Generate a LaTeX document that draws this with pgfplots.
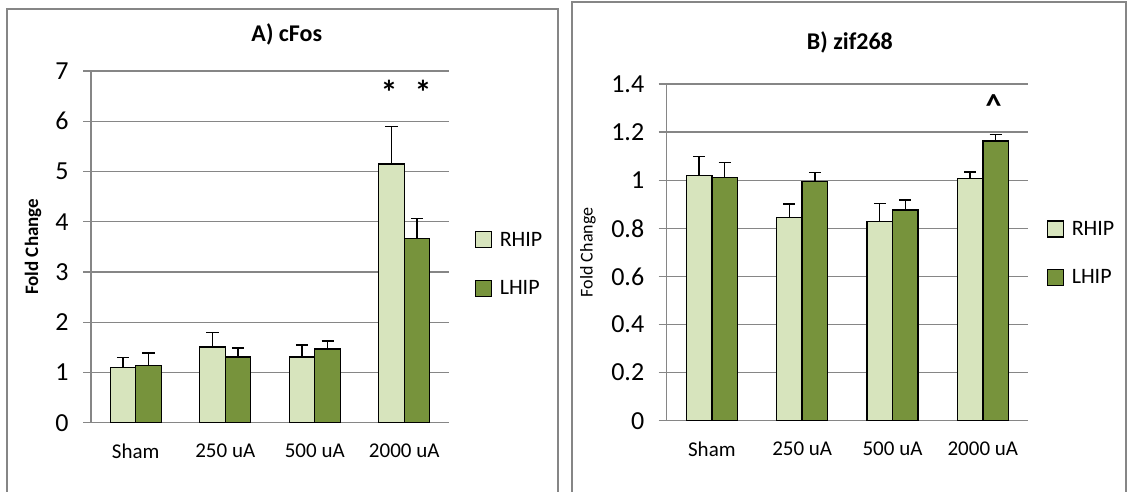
\documentclass[border=0pt]{standalone}
\usepackage{fontspec}
\setmainfont{Carlito}
\usepackage{pgfplots}
\pgfplotsset{compat=1.18}
\definecolor{rhip}{HTML}{D7E4BD}
\definecolor{lhip}{HTML}{77933C}
\definecolor{gridgray}{HTML}{868686}
\newcommand{\fs}[1]{\fontsize{#1bp}{#1bp}\selectfont}

\pgfplotsset{
  excelbars/.style={
    scale only axis, clip=false,
    ybar=0pt, bar width=25.5bp,
    xmin=-0.5, xmax=3.5,
    xtick={0,1,2,3},
    xticklabels={Sham,250 uA,500 uA,2000 uA},
    ymin=0,
    axis x line*=bottom, axis y line*=left,
    axis line style={draw=gridgray, line width=1.4bp, -},
    ymajorgrids,
    grid style={draw=gridgray, line width=1.4bp},
    tick align=outside,
    major tick length=8bp,
    ytick style={draw=gridgray, line width=1.4bp},
    xtick style={draw=none},
    /pgf/number format/assume math mode=true,
    yticklabel style={font=\fs{26}, xshift=-11bp},
    xticklabel style={font=\fs{21}, yshift=-10bp},
    legend style={draw=none, fill=none, font=\fs{22}, anchor=west,
      row sep=29bp},
    legend cell align=left,
    legend image code/.code={\draw[#1] (0bp,-8bp) rectangle (16bp,8bp);
      \path[draw=none, fill=none] (16bp,0bp) -- (22bp,0bp);},
  },
  hipbar/.style={draw=black, line width=1.4bp, fill=#1,
    error bars/.cd, y dir=plus, y explicit,
    error bar style={black, line width=1.4bp},
    error mark options={rotate=90, mark size=6bp, black, line width=1.4bp}},
}

\begin{document}
\begin{tikzpicture}
\useasboundingbox (0,0) rectangle (1130bp,-492bp);
% panel frames
\draw[gridgray, line width=1.3bp] (7bp,-520bp) |- (558bp,-9bp) -- (558bp,-520bp);
\draw[gridgray, line width=1.3bp] (572bp,-520bp) |- (1126bp,-2bp) -- (1126bp,-520bp);

% A) cFos
\begin{axis}[excelbars,
  at={(91bp,-422.7bp)}, anchor=south west,
  width=358bp, height=351.7bp,
  ymax=7, ytick={0,1,2,3,4,5,6,7},
  legend style={at={(axis description cs:1.064,0.451)}},
]
\addplot[hipbar=rhip] coordinates {
  (0,1.10) +- (0,0.20)
  (1,1.51) +- (0,0.28)
  (2,1.31) +- (0,0.24)
  (3,5.15) +- (0,0.74)
};
\addplot[hipbar=lhip] coordinates {
  (0,1.14) +- (0,0.25)
  (1,1.31) +- (0,0.18)
  (2,1.47) +- (0,0.16)
  (3,3.67) +- (0,0.39)
};
\legend{RHIP,LHIP}
\node[font=\bfseries\fs{24}] at (axis description cs:0.547,1.105) {A) cFos};
\node[rotate=90, font=\bfseries\fs{19}] at (axis description cs:-0.162,0.5) {Fold Change};
\node[font=\bfseries\fs{34}] at (axis cs:2.83,6.58) {*};
\node[font=\bfseries\fs{34}] at (axis cs:3.21,6.58) {*};
\end{axis}

% B) zif268
\begin{axis}[excelbars,
  at={(666.7bp,-420.7bp)}, anchor=south west,
  width=361.3bp, height=336.7bp,
  ymax=1.4, ytick={0,0.2,0.4,0.6,0.8,1,1.2,1.4},
  yticklabels={0,0.2,0.4,0.6,0.8,1,1.2,1.4},
  legend style={at={(axis description cs:1.044,0.497)}},
]
\addplot[hipbar=rhip] coordinates {
  (0,1.019) +- (0,0.079)
  (1,0.846) +- (0,0.055)
  (2,0.829) +- (0,0.075)
  (3,1.006) +- (0,0.028)
};
\addplot[hipbar=lhip] coordinates {
  (0,1.012) +- (0,0.062)
  (1,0.994) +- (0,0.037)
  (2,0.876) +- (0,0.042)
  (3,1.163) +- (0,0.026)
};
\legend{RHIP,LHIP}
\node[font=\bfseries\fs{24}] at (axis description cs:0.507,1.125) {B) zif268};
\node[rotate=90, font=\fs{18}] at (axis description cs:-0.218,0.5) {Fold Change};
\node[font=\bfseries\fs{32}] at (axis cs:3.12,1.31) {\^{}};
\end{axis}
\end{tikzpicture}
\end{document}
